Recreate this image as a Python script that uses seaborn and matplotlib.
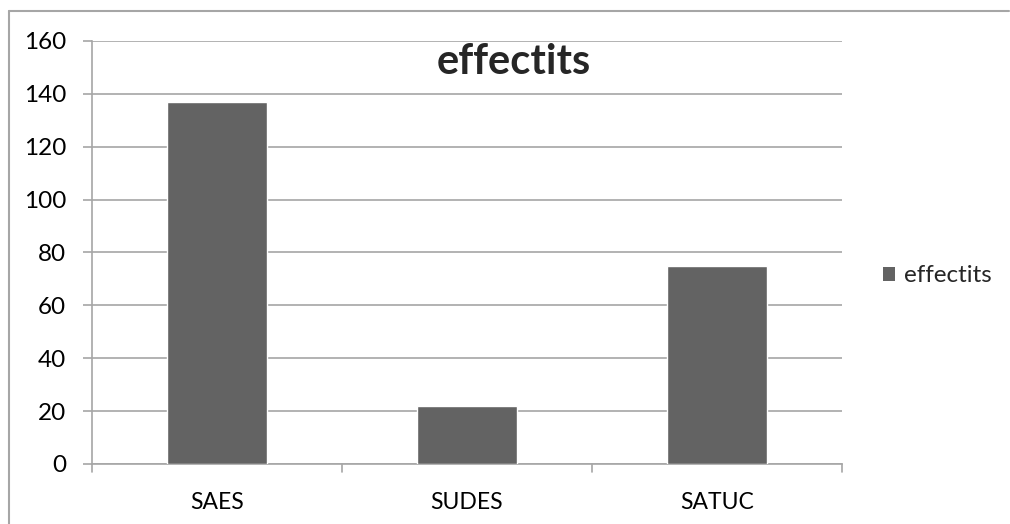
import pandas as pd
import seaborn as sns
import matplotlib.pyplot as plt
from matplotlib.patches import Patch
from matplotlib.lines import Line2D

# data
categories = ["SAES", "SUDES", "SATUC"]
effectits = [137, 22, 75]
series_name = "effectits"

df = pd.DataFrame({"categorie": categories, "effectits": effectits})

sns.set_theme(style="white")
plt.rcParams['font.family'] = ['Lato', 'DejaVu Sans']

grey = "#a6a6a6"
bar_color = "#636363"

fig = plt.figure(figsize=(10.10, 5.24), dpi=100)
ax = fig.add_axes([92 / 1010, 1 - 464 / 524, 750 / 1010, 423 / 524])

sns.barplot(data=df, x="categorie", y="effectits", order=categories,
            color=bar_color, saturation=1, width=0.4, ax=ax, zorder=3)

ax.set_ylim(0, 160)
ax.set_xlim(-0.5, len(categories) - 0.5)
ax.set_yticks(range(0, 161, 20))
ax.set_xlabel("")
ax.set_ylabel("")

# gridlines like Excel
ax.yaxis.grid(True, color=grey, linewidth=1.2, zorder=0)
ax.set_axisbelow(True)
for s in ["top", "right"]:
    ax.spines[s].set_visible(False)
ax.spines["left"].set_color(grey)
ax.spines["bottom"].set_color(grey)
ax.spines["left"].set_linewidth(1.2)
ax.spines["bottom"].set_linewidth(1.2)

# y ticks outward, x ticks at category boundaries
ax.tick_params(axis="y", left=True, length=6.5, width=1.2, color=grey,
               labelsize=17.5, labelcolor="black", pad=12)
ax.tick_params(axis="x", bottom=False, labelsize=16.5, labelcolor="black", pad=14)
for b in [-0.5, 0.5, 1.5, 2.5]:
    ax.add_line(Line2D([b, b], [0, -0.02], transform=ax.get_xaxis_transform(),
                       color=grey, linewidth=1.2, clip_on=False))

fig.text(514 / 1010, 1 - 62 / 524, "effectits", ha="center", va="center",
         fontsize=30, fontweight="bold")

handles = [Patch(facecolor=bar_color, edgecolor="none", label=series_name)]
fig.legend(handles=handles, loc="center left", bbox_to_anchor=(866 / 1010, 1 - 276 / 524),
           frameon=False, fontsize=17.5, handlelength=0.5, handleheight=0.5,
           handletextpad=0.35, borderpad=0.2)

# chart border (top and left visible in the reference)
fig.add_artist(Line2D([9 / 1010, 9 / 1010], [0, 1 - 11 / 524], color=grey, linewidth=1.5))
fig.add_artist(Line2D([9 / 1010, 1009 / 1010], [1 - 11 / 524, 1 - 11 / 524], color=grey, linewidth=1.5))

fig.savefig("out.png", dpi=100)
